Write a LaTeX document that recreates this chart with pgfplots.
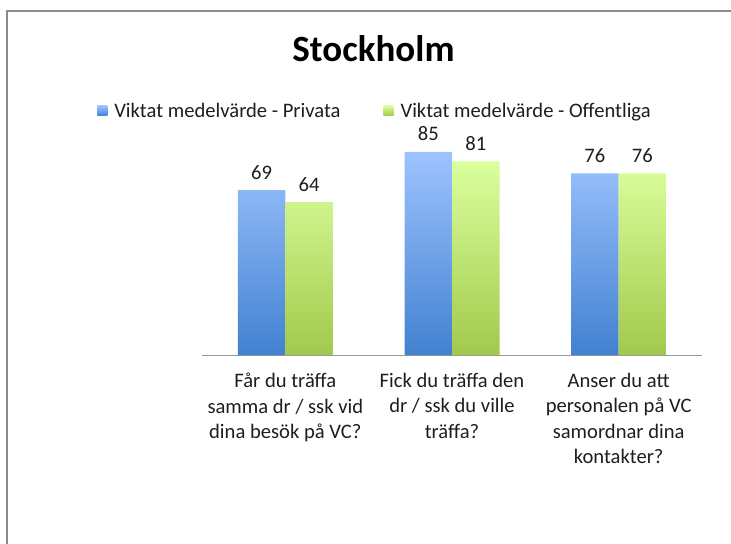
\documentclass[border=0pt]{standalone}
\usepackage{fontspec}
\setmainfont{Carlito}
\usepackage{pgfplots}
\pgfplotsset{compat=1.18}
\definecolor{blueTop}{HTML}{9DC3FF}
\definecolor{blueBot}{HTML}{4281D0}
\definecolor{greenTop}{HTML}{DBFF9D}
\definecolor{greenBot}{HTML}{A2C94C}
\definecolor{frameGray}{HTML}{8C8C8C}
\definecolor{axisGray}{HTML}{9A9A9A}
\definecolor{txt}{HTML}{1E1E1E}
\newcommand{\bodyfont}{\fontsize{20.6bp}{25.3bp}\selectfont}
\begin{document}
\begin{tikzpicture}
\path[use as bounding box] (-202bp,-189bp) rectangle (529bp,355bp);
\draw[line width=2bp, frameGray] (-195.3bp,-190bp) -- (-195.3bp,344.3bp) -- (530bp,344.3bp);
\begin{axis}[
  at={(0,0)}, anchor=south west,
  scale only axis,
  width=500bp, height=239bp,
  xmin=-0.5, xmax=2.5,
  ymin=0, ymax=100,
  axis x line*=bottom,
  axis y line=none,
  x axis line style={axisGray, line width=1bp, -},
  ybar=0pt,
  bar width=47.5bp,
  xtick={0,1,2},
  xticklabels={{Får du träffa\\samma dr / ssk vid\\dina besök på VC?},
               {Fick du träffa den\\dr / ssk du ville\\träffa?},
               {Anser du att\\personalen på VC\\samordnar dina\\kontakter?}},
  xtick style={draw=none},
  major tick length=0pt,
  xticklabel style={align=center, font=\bodyfont, text=txt, inner sep=0pt, anchor=north, yshift=-18bp},
  ytick=\empty,
  clip=false,
  nodes near coords,
  every node near coord/.append style={font=\bodyfont, text=txt, inner sep=0pt, anchor=base, yshift=11bp},
  /pgf/number format/assume math mode=true,
  title={Stockholm},
  title style={at={(axis description cs:0.343,1.202)}, anchor=base, inner sep=0pt, font=\fontsize{37bp}{44bp}\selectfont\bfseries, text=black},
  legend columns=2,
  legend style={draw=none, fill=none, inner sep=0pt, outer sep=0pt,
    at={(axis description cs:-0.2094,1.022)}, anchor=west,
    font=\bodyfont, text=txt,
    nodes={inner sep=0pt},
    /tikz/every odd column/.append style={column sep=7bp},
    /tikz/every even column/.append style={column sep=43bp}},
  legend image code/.code={\path[#1, draw=none] (0bp,-5bp) rectangle (10bp,5bp);},
]
\addplot[draw=none, top color=blueTop, bottom color=blueBot] coordinates {(0,69) (1,85) (2,76)};
\addplot[draw=none, top color=greenTop, bottom color=greenBot] coordinates {(0,64) (1,81) (2,76)};
\legend{Viktat medelvärde - Privata, Viktat medelvärde - Offentliga}
\end{axis}
\end{tikzpicture}
\end{document}
